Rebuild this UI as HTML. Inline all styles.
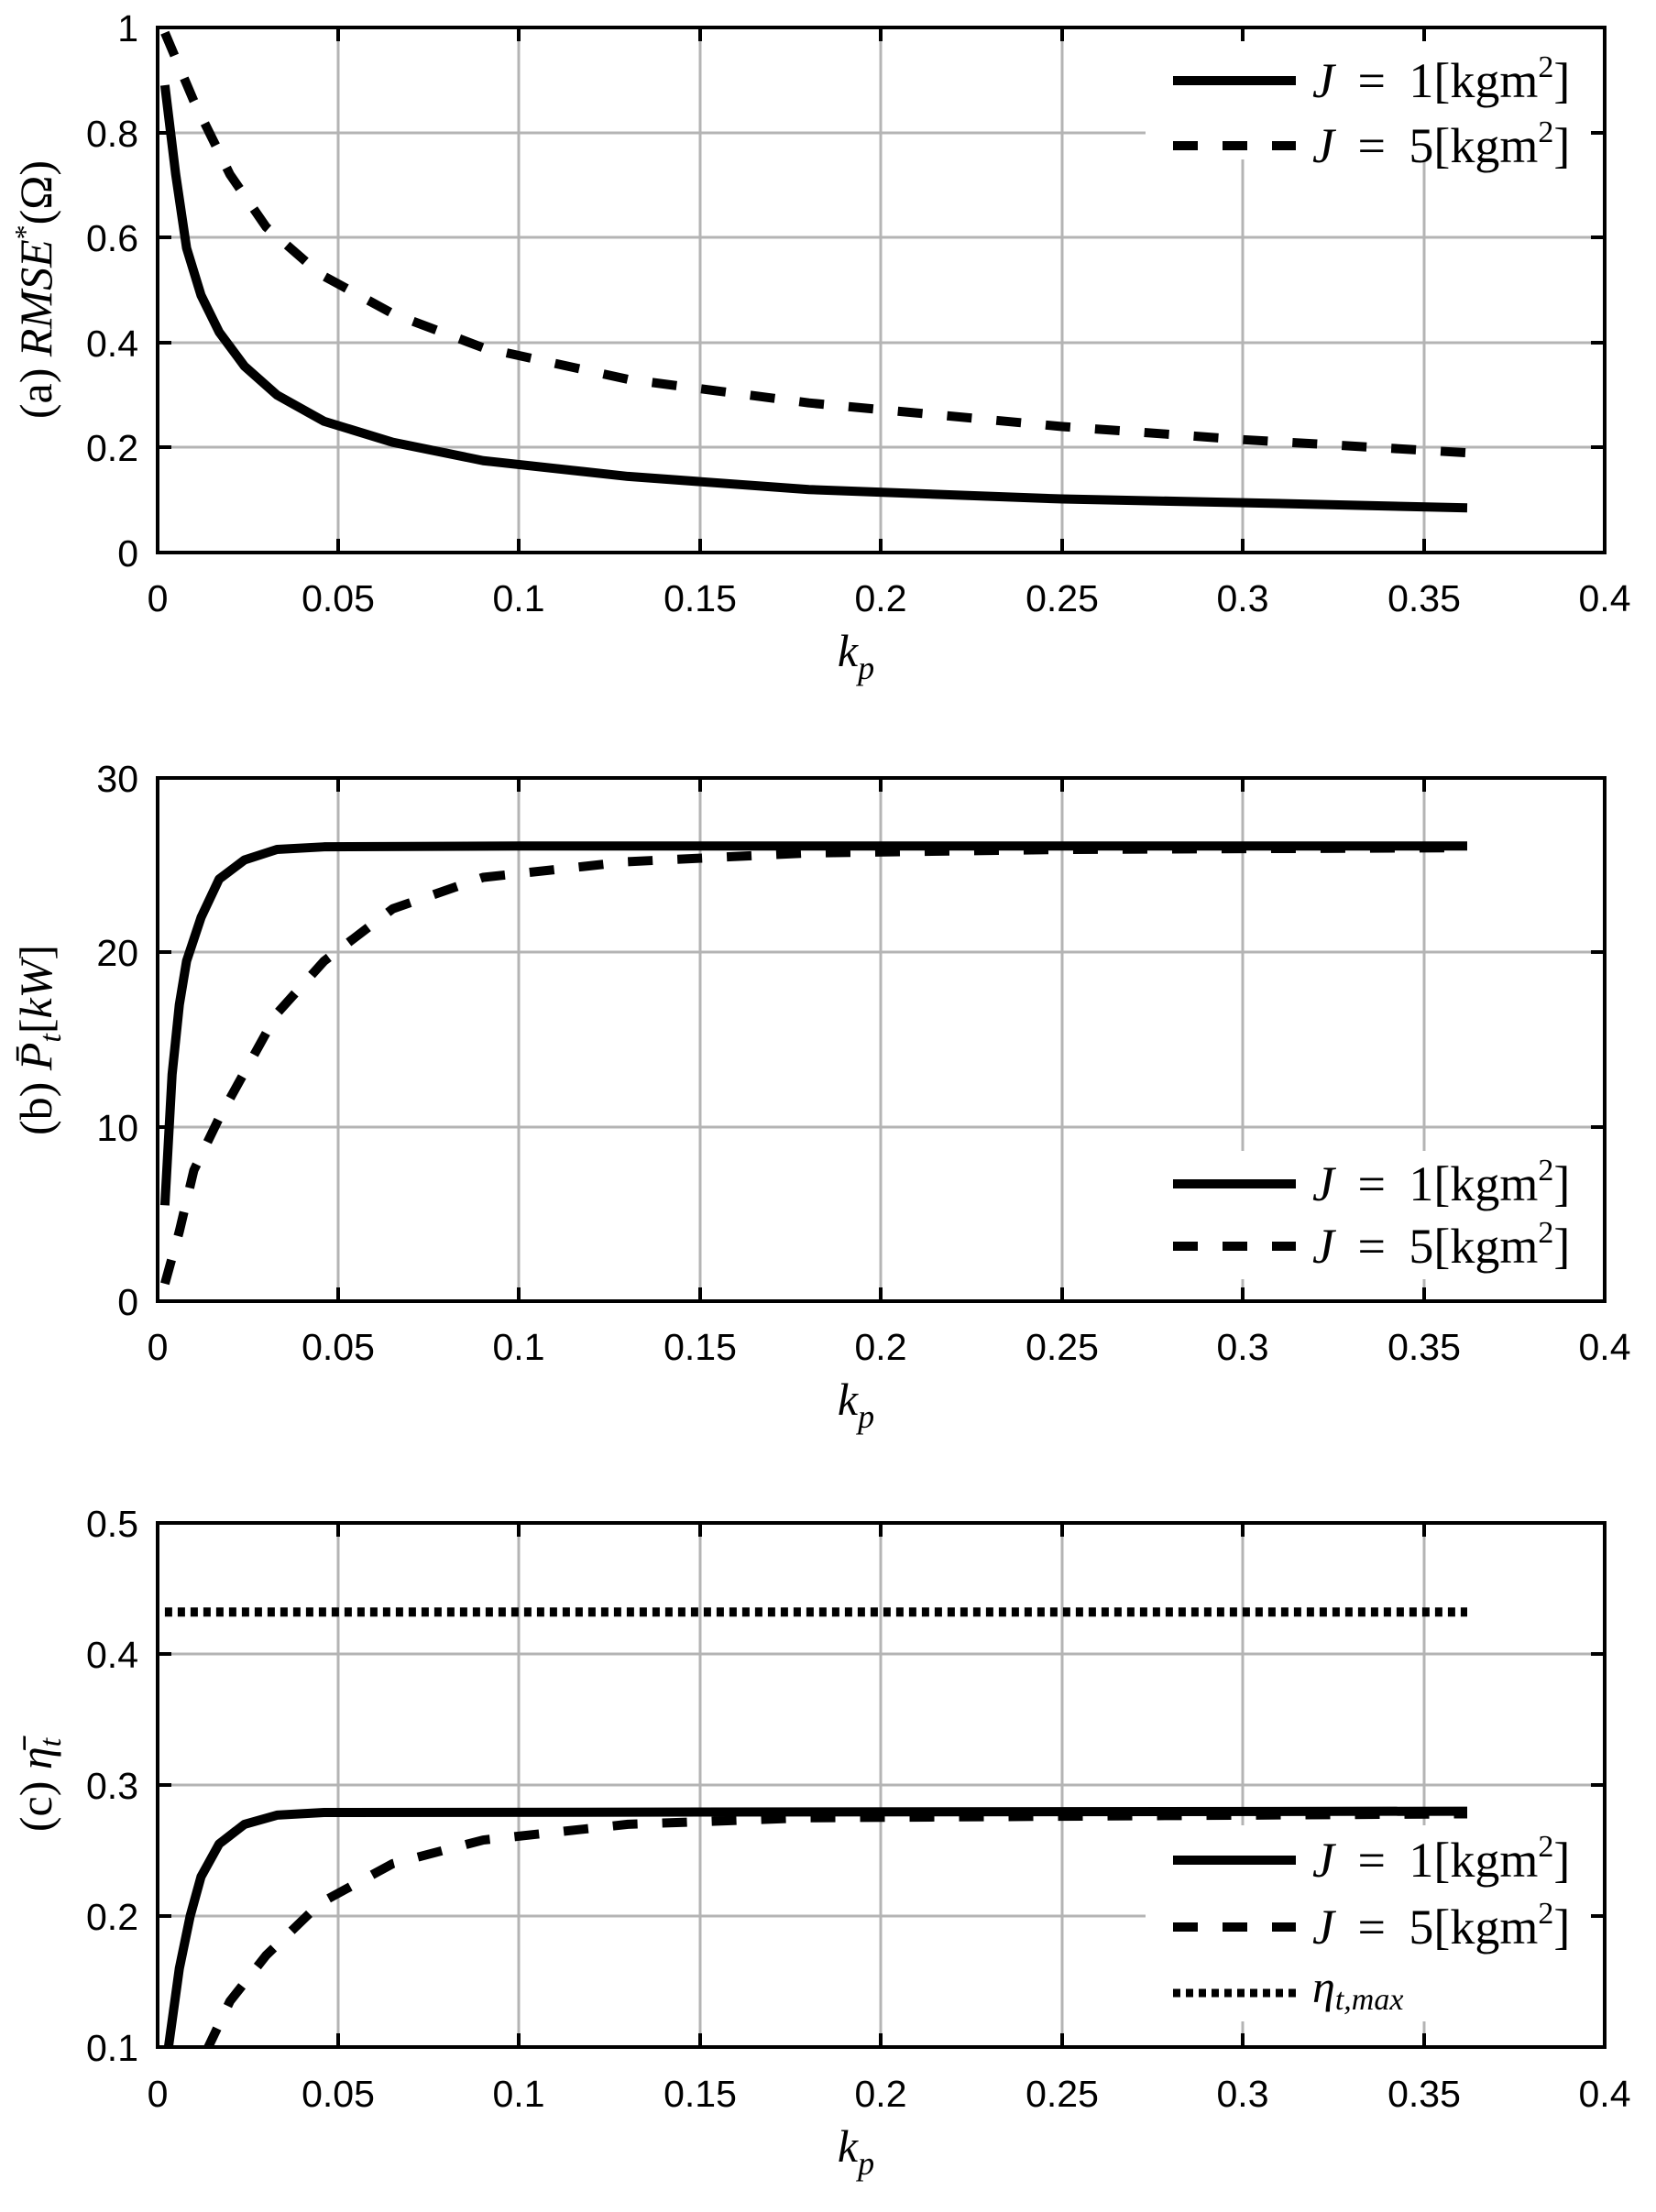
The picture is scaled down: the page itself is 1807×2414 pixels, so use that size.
<!DOCTYPE html>
<html><head><meta charset="utf-8"><style>
html,body{margin:0;padding:0;background:#fff}
svg{display:block}
.t{font-family:"Liberation Sans",sans-serif;font-size:41px;fill:#000}
.s{font-family:"Liberation Serif",serif;font-size:50px;fill:#000}
.lg{font-family:"Liberation Serif",serif;font-size:54px;fill:#000;word-spacing:12px}
.g{stroke:#b4b4b4;stroke-width:3}
.ax{fill:none;stroke:#000;stroke-width:4}
.d{fill:none;stroke:#000;stroke-width:10;vector-effect:non-scaling-stroke;stroke-linejoin:round}
</style></head><body>
<svg width="1807" height="2414" viewBox="0 0 1807 2414" xmlns="http://www.w3.org/2000/svg">
<rect width="1807" height="2414" fill="#fff"/>

<!-- ===== Panel A ===== -->
<g>
<g class="g">
<line x1="369" y1="30" x2="369" y2="603"/><line x1="566" y1="30" x2="566" y2="603"/><line x1="764" y1="30" x2="764" y2="603"/><line x1="961" y1="30" x2="961" y2="603"/><line x1="1159" y1="30" x2="1159" y2="603"/><line x1="1356" y1="30" x2="1356" y2="603"/><line x1="1554" y1="30" x2="1554" y2="603"/>
<line x1="172" y1="488" x2="1751" y2="488"/><line x1="172" y1="374" x2="1751" y2="374"/><line x1="172" y1="259" x2="1751" y2="259"/><line x1="172" y1="145" x2="1751" y2="145"/>
</g>
<svg x="172" y="30" width="1579" height="573" viewBox="0 -1 0.4 1" preserveAspectRatio="none">
<polyline class="d" points="0.002,-0.89 0.005,-0.72 0.008,-0.58 0.012,-0.49 0.017,-0.42 0.024,-0.355 0.033,-0.30 0.046,-0.25 0.065,-0.21 0.09,-0.175 0.13,-0.145 0.18,-0.12 0.25,-0.102 0.3,-0.095 0.362,-0.085"/>
<polyline class="d" style="stroke-dasharray:27 27" points="0.002,-0.99 0.01,-0.86 0.02,-0.72 0.03,-0.62 0.045,-0.53 0.065,-0.455 0.09,-0.39 0.13,-0.33 0.18,-0.285 0.25,-0.24 0.3,-0.215 0.362,-0.19"/>
</svg>
<rect x="1250" y="40" width="486" height="134" fill="#fff"/>
<line x1="1280" y1="88" x2="1414" y2="88" stroke="#000" stroke-width="10"/>
<line x1="1280" y1="159" x2="1414" y2="159" stroke="#000" stroke-width="10" stroke-dasharray="27 27"/>
<text class="lg" x="1432" y="106"><tspan font-style="italic">J</tspan> = 1[kgm<tspan font-size="34" dy="-22">2</tspan><tspan dy="22">]</tspan></text>
<text class="lg" x="1432" y="177"><tspan font-style="italic">J</tspan> = 5[kgm<tspan font-size="34" dy="-22">2</tspan><tspan dy="22">]</tspan></text>
<rect class="ax" x="172" y="30" width="1579" height="573"/>
<g stroke="#000" stroke-width="4">
<line x1="369" y1="603" x2="369" y2="588"/><line x1="566" y1="603" x2="566" y2="588"/><line x1="764" y1="603" x2="764" y2="588"/><line x1="961" y1="603" x2="961" y2="588"/><line x1="1159" y1="603" x2="1159" y2="588"/><line x1="1356" y1="603" x2="1356" y2="588"/><line x1="1554" y1="603" x2="1554" y2="588"/>
<line x1="369" y1="30" x2="369" y2="45"/><line x1="566" y1="30" x2="566" y2="45"/><line x1="764" y1="30" x2="764" y2="45"/><line x1="961" y1="30" x2="961" y2="45"/><line x1="1159" y1="30" x2="1159" y2="45"/><line x1="1356" y1="30" x2="1356" y2="45"/><line x1="1554" y1="30" x2="1554" y2="45"/>
<line x1="172" y1="488" x2="187" y2="488"/><line x1="172" y1="374" x2="187" y2="374"/><line x1="172" y1="259" x2="187" y2="259"/><line x1="172" y1="145" x2="187" y2="145"/>
<line x1="1751" y1="488" x2="1736" y2="488"/><line x1="1751" y1="374" x2="1736" y2="374"/><line x1="1751" y1="259" x2="1736" y2="259"/><line x1="1751" y1="145" x2="1736" y2="145"/>
</g>
<g class="t" text-anchor="end">
<text x="151" y="618">0</text><text x="151" y="503">0.2</text><text x="151" y="389">0.4</text><text x="151" y="274">0.6</text><text x="151" y="160">0.8</text><text x="151" y="45">1</text>
</g>
<g class="t" text-anchor="middle">
<text x="172" y="667">0</text><text x="369" y="667">0.05</text><text x="566" y="667">0.1</text><text x="764" y="667">0.15</text><text x="961" y="667">0.2</text><text x="1159" y="667">0.25</text><text x="1356" y="667">0.3</text><text x="1554" y="667">0.35</text><text x="1751" y="667">0.4</text>
</g>
<text class="s" x="934" y="727" text-anchor="middle"><tspan font-style="italic">k</tspan><tspan font-style="italic" font-size="36" dy="14">p</tspan></text>
<text class="s" transform="translate(56,316) rotate(-90)" text-anchor="middle">(a) <tspan font-style="italic">RMSE</tspan><tspan font-size="32" dy="-18">*</tspan><tspan dy="18">(Ω)</tspan></text>
</g>

<!-- ===== Panel B ===== -->
<g>
<g class="g">
<line x1="369" y1="849" x2="369" y2="1420"/><line x1="566" y1="849" x2="566" y2="1420"/><line x1="764" y1="849" x2="764" y2="1420"/><line x1="961" y1="849" x2="961" y2="1420"/><line x1="1159" y1="849" x2="1159" y2="1420"/><line x1="1356" y1="849" x2="1356" y2="1420"/><line x1="1554" y1="849" x2="1554" y2="1420"/>
<line x1="172" y1="1230" x2="1751" y2="1230"/><line x1="172" y1="1039" x2="1751" y2="1039"/>
</g>
<svg x="172" y="849" width="1579" height="571" viewBox="0 -30 0.4 30" preserveAspectRatio="none">
<polyline class="d" points="0.002,-5.5 0.004,-13 0.006,-17 0.008,-19.5 0.012,-22 0.017,-24.2 0.024,-25.3 0.033,-25.9 0.046,-26.05 0.1,-26.1 0.362,-26.1"/>
<polyline class="d" style="stroke-dasharray:27 27" points="0.002,-1 0.006,-4 0.01,-7.5 0.017,-10.5 0.025,-13.5 0.033,-16.5 0.046,-19.5 0.065,-22.5 0.09,-24.3 0.13,-25.2 0.18,-25.7 0.25,-25.9 0.362,-26"/>
</svg>
<rect x="1250" y="1256" width="486" height="140" fill="#fff"/>
<line x1="1280" y1="1292" x2="1414" y2="1292" stroke="#000" stroke-width="10"/>
<line x1="1280" y1="1360" x2="1414" y2="1360" stroke="#000" stroke-width="10" stroke-dasharray="27 27"/>
<text class="lg" x="1432" y="1310"><tspan font-style="italic">J</tspan> = 1[kgm<tspan font-size="34" dy="-22">2</tspan><tspan dy="22">]</tspan></text>
<text class="lg" x="1432" y="1378"><tspan font-style="italic">J</tspan> = 5[kgm<tspan font-size="34" dy="-22">2</tspan><tspan dy="22">]</tspan></text>
<rect class="ax" x="172" y="849" width="1579" height="571"/>
<g stroke="#000" stroke-width="4">
<line x1="369" y1="1420" x2="369" y2="1405"/><line x1="566" y1="1420" x2="566" y2="1405"/><line x1="764" y1="1420" x2="764" y2="1405"/><line x1="961" y1="1420" x2="961" y2="1405"/><line x1="1159" y1="1420" x2="1159" y2="1405"/><line x1="1356" y1="1420" x2="1356" y2="1405"/><line x1="1554" y1="1420" x2="1554" y2="1405"/>
<line x1="369" y1="849" x2="369" y2="864"/><line x1="566" y1="849" x2="566" y2="864"/><line x1="764" y1="849" x2="764" y2="864"/><line x1="961" y1="849" x2="961" y2="864"/><line x1="1159" y1="849" x2="1159" y2="864"/><line x1="1356" y1="849" x2="1356" y2="864"/><line x1="1554" y1="849" x2="1554" y2="864"/>
<line x1="172" y1="1230" x2="187" y2="1230"/><line x1="172" y1="1039" x2="187" y2="1039"/>
<line x1="1751" y1="1230" x2="1736" y2="1230"/><line x1="1751" y1="1039" x2="1736" y2="1039"/>
</g>
<g class="t" text-anchor="end">
<text x="151" y="1435">0</text><text x="151" y="1245">10</text><text x="151" y="1054">20</text><text x="151" y="864">30</text>
</g>
<g class="t" text-anchor="middle">
<text x="172" y="1484">0</text><text x="369" y="1484">0.05</text><text x="566" y="1484">0.1</text><text x="764" y="1484">0.15</text><text x="961" y="1484">0.2</text><text x="1159" y="1484">0.25</text><text x="1356" y="1484">0.3</text><text x="1554" y="1484">0.35</text><text x="1751" y="1484">0.4</text>
</g>
<text class="s" x="934" y="1544" text-anchor="middle"><tspan font-style="italic">k</tspan><tspan font-style="italic" font-size="36" dy="14">p</tspan></text>
<text class="s" transform="translate(56,1135) rotate(-90)" text-anchor="middle">(b) <tspan font-style="italic">P̄</tspan><tspan font-style="italic" font-size="34" dy="10">t</tspan><tspan dy="-10">[</tspan><tspan font-style="italic">kW</tspan>]</text>
</g>

<!-- ===== Panel C ===== -->
<g>
<g class="g">
<line x1="369" y1="1662" x2="369" y2="2234"/><line x1="566" y1="1662" x2="566" y2="2234"/><line x1="764" y1="1662" x2="764" y2="2234"/><line x1="961" y1="1662" x2="961" y2="2234"/><line x1="1159" y1="1662" x2="1159" y2="2234"/><line x1="1356" y1="1662" x2="1356" y2="2234"/><line x1="1554" y1="1662" x2="1554" y2="2234"/>
<line x1="172" y1="2091" x2="1751" y2="2091"/><line x1="172" y1="1948" x2="1751" y2="1948"/><line x1="172" y1="1805" x2="1751" y2="1805"/>
</g>
<svg x="172" y="1662" width="1579" height="572" viewBox="0 -0.5 0.4 0.4" preserveAspectRatio="none">
<polyline class="d" points="0.002,-0.05 0.003,-0.1 0.006,-0.16 0.009,-0.2 0.012,-0.23 0.017,-0.255 0.024,-0.27 0.033,-0.277 0.046,-0.279 0.362,-0.28"/>
<polyline class="d" style="stroke-dasharray:27 27" points="0.011,-0.06 0.014,-0.1 0.02,-0.135 0.03,-0.17 0.045,-0.21 0.065,-0.24 0.09,-0.258 0.13,-0.27 0.18,-0.275 0.362,-0.278"/>
<polyline class="d" style="stroke-dasharray:8 6;stroke-linejoin:miter" points="0.002,-0.432 0.362,-0.432"/>
</svg>
<rect x="1250" y="1992" width="486" height="214" fill="#fff"/>
<line x1="1280" y1="2030" x2="1414" y2="2030" stroke="#000" stroke-width="10"/>
<line x1="1280" y1="2103" x2="1414" y2="2103" stroke="#000" stroke-width="10" stroke-dasharray="27 27"/>
<line x1="1280" y1="2175" x2="1414" y2="2175" stroke="#000" stroke-width="9" stroke-dasharray="8 6"/>
<text class="lg" x="1432" y="2048"><tspan font-style="italic">J</tspan> = 1[kgm<tspan font-size="34" dy="-22">2</tspan><tspan dy="22">]</tspan></text>
<text class="lg" x="1432" y="2121"><tspan font-style="italic">J</tspan> = 5[kgm<tspan font-size="34" dy="-22">2</tspan><tspan dy="22">]</tspan></text>
<text class="s" x="1432" y="2185" font-style="italic">η<tspan font-size="34" dy="8">t,max</tspan></text>
<rect class="ax" x="172" y="1662" width="1579" height="572"/>
<g stroke="#000" stroke-width="4">
<line x1="369" y1="2234" x2="369" y2="2219"/><line x1="566" y1="2234" x2="566" y2="2219"/><line x1="764" y1="2234" x2="764" y2="2219"/><line x1="961" y1="2234" x2="961" y2="2219"/><line x1="1159" y1="2234" x2="1159" y2="2219"/><line x1="1356" y1="2234" x2="1356" y2="2219"/><line x1="1554" y1="2234" x2="1554" y2="2219"/>
<line x1="369" y1="1662" x2="369" y2="1677"/><line x1="566" y1="1662" x2="566" y2="1677"/><line x1="764" y1="1662" x2="764" y2="1677"/><line x1="961" y1="1662" x2="961" y2="1677"/><line x1="1159" y1="1662" x2="1159" y2="1677"/><line x1="1356" y1="1662" x2="1356" y2="1677"/><line x1="1554" y1="1662" x2="1554" y2="1677"/>
<line x1="172" y1="2091" x2="187" y2="2091"/><line x1="172" y1="1948" x2="187" y2="1948"/><line x1="172" y1="1805" x2="187" y2="1805"/>
<line x1="1751" y1="2091" x2="1736" y2="2091"/><line x1="1751" y1="1948" x2="1736" y2="1948"/><line x1="1751" y1="1805" x2="1736" y2="1805"/>
</g>
<g class="t" text-anchor="end">
<text x="151" y="2249">0.1</text><text x="151" y="2106">0.2</text><text x="151" y="1963">0.3</text><text x="151" y="1820">0.4</text><text x="151" y="1677">0.5</text>
</g>
<g class="t" text-anchor="middle">
<text x="172" y="2299">0</text><text x="369" y="2299">0.05</text><text x="566" y="2299">0.1</text><text x="764" y="2299">0.15</text><text x="961" y="2299">0.2</text><text x="1159" y="2299">0.25</text><text x="1356" y="2299">0.3</text><text x="1554" y="2299">0.35</text><text x="1751" y="2299">0.4</text>
</g>
<text class="s" x="934" y="2359" text-anchor="middle"><tspan font-style="italic">k</tspan><tspan font-style="italic" font-size="36" dy="14">p</tspan></text>
<text class="s" transform="translate(56,1948) rotate(-90)" text-anchor="middle">(c) <tspan font-style="italic">η̄</tspan><tspan font-style="italic" font-size="34" dy="10">t</tspan></text>
</g>
</svg>
</body></html>
